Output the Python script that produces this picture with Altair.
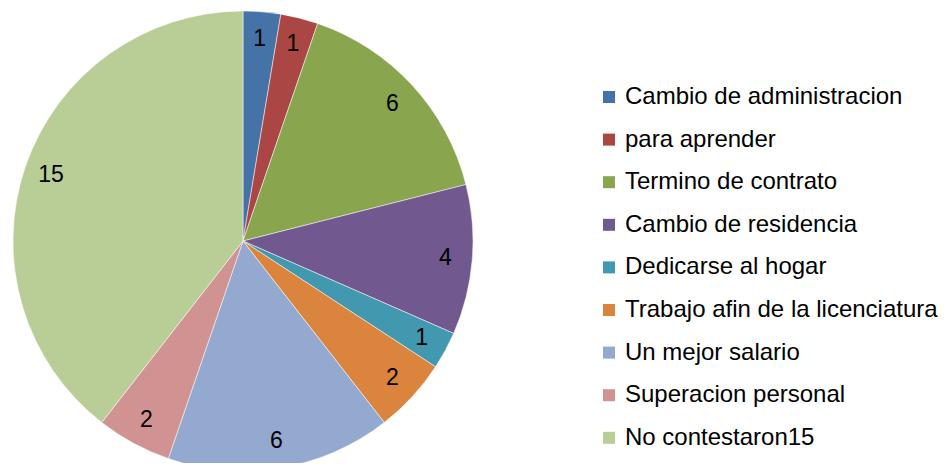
import altair as alt
import pandas as pd

categories = [
    "Cambio de administracion",
    "para aprender",
    "Termino de contrato",
    "Cambio de residencia",
    "Dedicarse al hogar",
    "Trabajo afin de la licenciatura",
    "Un mejor salario",
    "Superacion personal",
    "No contestaron15",
]
values = [1, 1, 6, 4, 1, 2, 6, 2, 15]
colors = ["#4572A7", "#AA4643", "#89A54E", "#71588F", "#4198AF",
          "#DB843D", "#93A9CF", "#D19392", "#B9CD96"]

df = pd.DataFrame({"categoria": categories, "valor": values,
                   "orden": list(range(len(categories)))})

FONT = "Liberation Sans"
cx, cy, R = 235, 233, 230

base = alt.Chart(df).encode(
    theta=alt.Theta("valor:Q", stack=True),
    order=alt.Order("orden:Q"),
    x=alt.value(cx),
    y=alt.value(cy),
)

pie = base.mark_arc(outerRadius=R, stroke="white", strokeWidth=0.5).encode(
    color=alt.Color(
        "categoria:N",
        scale=alt.Scale(domain=categories, range=colors),
        sort=categories,
        legend=alt.Legend(
            title=None,
            orient="none",
            legendX=589,
            legendY=77,
            symbolType="square",
            symbolSize=144,
            symbolStrokeWidth=0,
            labelFontSize=24,
            labelFont=FONT,
            labelColor="#000000",
            labelOffset=4,
            rowPadding=18.6,
            labelLimit=400,
            padding=0,
        ),
    )
)

labels = base.mark_text(radius=203, fontSize=23, font=FONT, color="#000000").encode(
    text=alt.Text("valor:Q")
)

chart = (
    alt.layer(pie, labels)
    .properties(width=932, height=455, padding=0, autosize=alt.AutoSizeParams(type="none"))
    .configure_view(stroke=None)
)

chart.save("out.html", embed_options={"renderer": "svg", "actions": False})
